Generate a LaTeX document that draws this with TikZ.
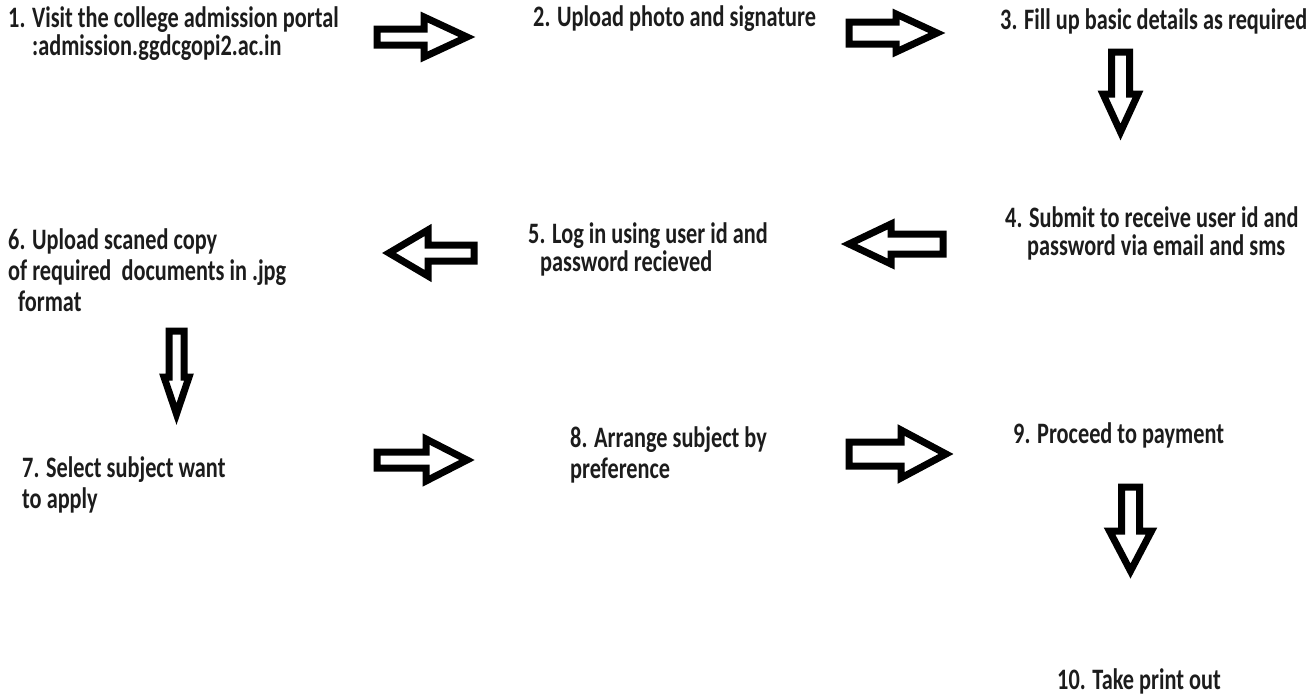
\documentclass[tikz,border=0pt]{standalone}
\usepackage{fontspec}
\setmainfont{Carlito}
\definecolor{txt}{HTML}{1C1C1C}
\newcommand\hblockarrow[6]{% start x, head base x, tip x, centre y, shaft half, head half
  \draw[blockarrow] (#1,#4-#5) -- (#2,#4-#5) -- (#2,#4-#6) -- (#3,#4) -- (#2,#4+#6) -- (#2,#4+#5) -- (#1,#4+#5) -- cycle;}
\newcommand\vblockarrow[6]{% centre x, top y, head base y, tip y, shaft half, head half
  \draw[blockarrow] (#1-#5,#2) -- (#1-#5,#3) -- (#1-#6,#3) -- (#1,#4) -- (#1+#6,#3) -- (#1+#5,#3) -- (#1+#5,#2) -- cycle;}
\begin{document}
\begin{tikzpicture}[x=1pt,y=-1pt,
  lbl/.style={anchor=base west, inner sep=0pt, align=left, text=txt,
    font=\fontsize{22.3}{21}\selectfont\bfseries, yscale=1.33},
  lblwide/.style={lbl, font=\fontsize{22.3}{23.3}\selectfont\bfseries},
  blockarrow/.style={draw=black, line width=7pt, line join=miter, fill=white}]
\fill[white] (0,0) rectangle (1306,696);
\useasboundingbox (0,0) rectangle (1306,696);

% anchors are at the baseline of the last line
\node[lbl] (s1) at (8,55) {1. Visit the college admission portal\\\hspace*{24pt}:admission.ggdcgopi2.ac.in};
\node[lbl] (s2) at (533,27) {2. Upload photo and signature};
\node[lbl] (s3) at (1000,29) {3. Fill up basic details as required};
\node[lbl] (s4) at (1005,255) {4. Submit to receive user id and\\\hspace*{22pt}password via email and sms};
\node[lbl] (s5) at (528,271) {5. Log in using user id and\\\hspace*{12pt}password recieved};
\node[lblwide] (s6) at (8,311) {6. Upload scaned copy\\of required\ \ documents in .jpg\\\hspace*{10pt}format};
\node[lblwide] (s7) at (22,508) {7. Select subject want\\to apply};
\node[lblwide] (s8) at (570,478) {8. Arrange subject by\\preference};
\node[lbl] (s9) at (1013,443) {9. Proceed to payment};
\node[lbl] (s10) at (1057,689) {10. Take print out};

% 1 -> 2
\hblockarrow{377}{424}{467}{37}{8}{20}
% 2 -> 3
\hblockarrow{849}{896}{937}{33}{11}{19}
% 3 -> 4
\vblockarrow{1120.5}{52}{94}{132}{9}{17.5}
% 4 -> 5
\hblockarrow{943}{891}{849}{244}{10}{20}
% 5 -> 6
\hblockarrow{474}{428}{389}{253}{8}{23}
% 6 -> 7
\vblockarrow{176.5}{331}{377}{414}{7.5}{12.5}
% 7 -> 8
\hblockarrow{377}{426}{467}{460}{8}{21}
% 8 -> 9
\hblockarrow{849}{901}{946}{454}{12}{24}
% 9 -> 10
\vblockarrow{1130.5}{487}{531}{571}{9}{21}
\end{tikzpicture}
\end{document}
